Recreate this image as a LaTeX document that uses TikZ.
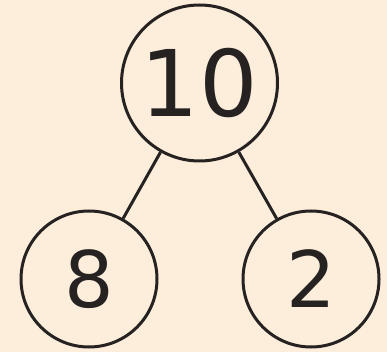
\documentclass[tikz,border=0pt]{standalone}
\usepackage{fontspec}
\setmainfont{DejaVu Sans}
\usepackage{tikz}
\usetikzlibrary{positioning}
\definecolor{mybg}{RGB}{252,238,219}
\definecolor{mydark}{RGB}{38,34,34}
\tikzset{
  bignum/.style={circle, draw=mydark, line width=3pt, inner sep=0pt,
    minimum size=156pt, text=mydark, font=\fontsize{92}{92}\selectfont},
  smallnum/.style={circle, draw=mydark, line width=3pt, inner sep=0pt,
    minimum size=136pt, text=mydark, font=\fontsize{78}{78}\selectfont},
  line/.style={line width=3pt, color=mydark}
}
\begin{document}
\begin{tikzpicture}[x=1pt, y=-1pt]
  % background
  \fill[mybg] (0,0) rectangle (387,352);
  \useasboundingbox (0,0) rectangle (387,352);
  % whole and parts
  \node[bignum] (whole) at (199.5,83) {10};
  \node[smallnum] (partA) at (89,279) {8};
  \node[smallnum] (partB) at (311,279) {2};
  % links
  \draw[line] (whole) -- (partA);
  \draw[line] (whole) -- (partB);
\end{tikzpicture}
\end{document}
